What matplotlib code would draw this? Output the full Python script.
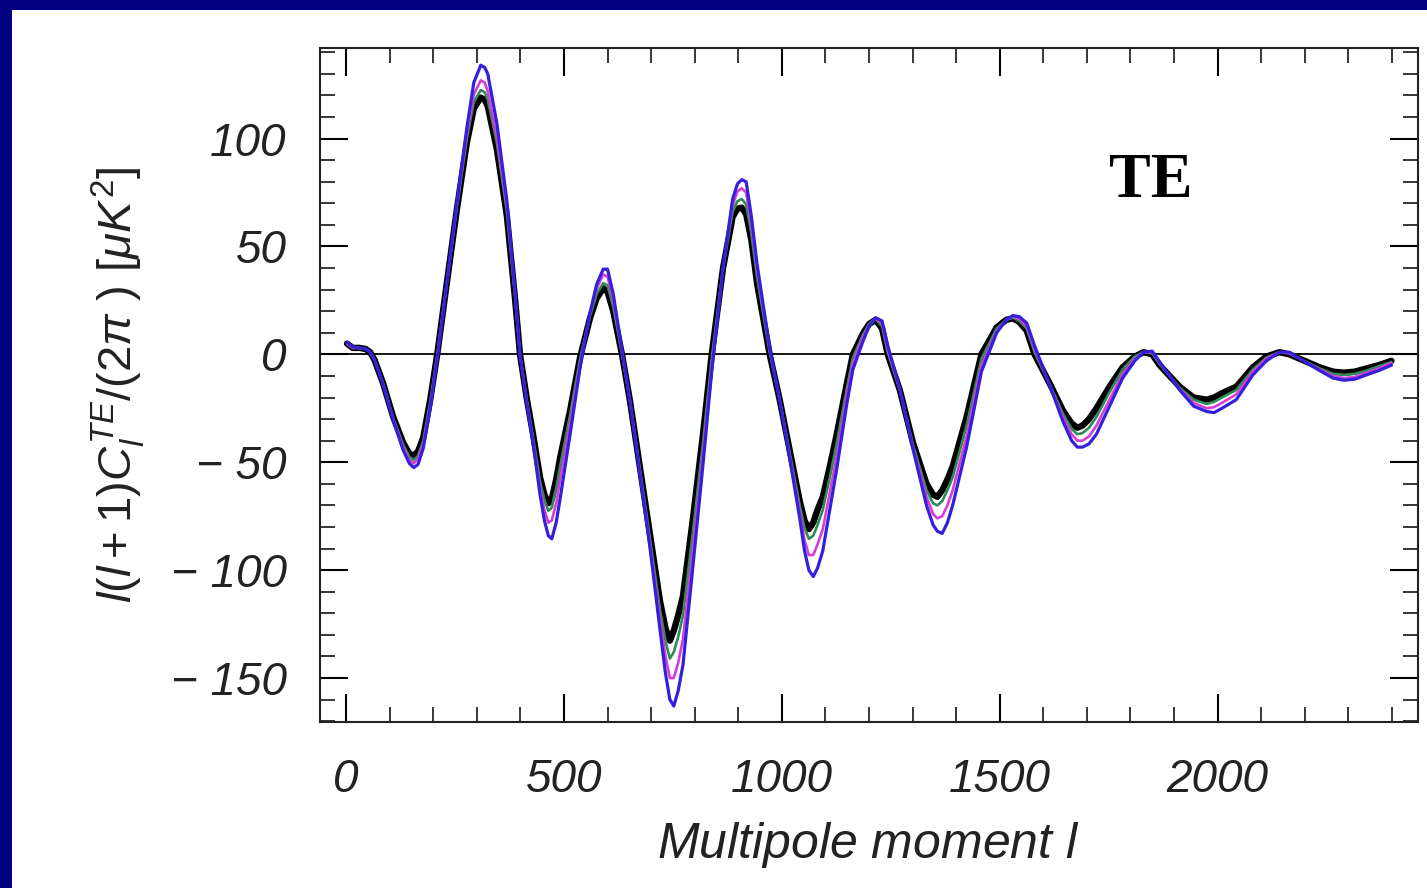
import matplotlib
matplotlib.use("Agg")
import matplotlib.pyplot as plt
from matplotlib.patches import Rectangle
from matplotlib.ticker import MultipleLocator


# multipole grid shared by all curves
ell = [2, 15, 30, 45, 55, 65, 85, 108, 131, 145, 155, 165, 177, 193, 209,
       231, 254, 277, 293, 309, 318, 325, 346, 369, 388, 399, 415, 429, 445,
       455, 464, 472, 482, 491, 514, 537, 560, 575, 590, 600, 613, 633, 651,
       674, 697, 720, 733, 743, 752, 762, 773, 796, 819, 839, 865, 887, 898,
       908, 918, 930, 943, 972, 995, 1018, 1041, 1052, 1062, 1072, 1082, 1094,
       1110, 1126, 1149, 1163, 1186, 1200, 1215, 1230, 1243, 1271, 1301, 1332,
       1347, 1357, 1368, 1380, 1392, 1424, 1458, 1493, 1515, 1530, 1545, 1562,
       1580, 1615, 1645, 1665, 1678, 1690, 1705, 1722, 1752, 1782, 1810, 1830,
       1850, 1867, 1890, 1913, 1945, 1975, 1992, 2010, 2043, 2081, 2112, 2142,
       2165, 2188, 2234, 2265, 2290, 2315, 2342, 2370, 2399]

te_black = [5, 3, 3, 2.5, 1, -2.5, -13.5, -29, -41, -46, -47, -45, -38.5, -21, 0,
            33, 67, 98, 114, 119, 118, 115, 95, 64, 25, 0, -21, -37, -57,
            -65, -69, -67, -58, -48, -26, -1.3, 17, 26, 30.6, 29, 20, 0, -21,
            -52, -83, -114, -127, -132.7, -128, -121, -112, -76, -37, 0, 40, 63.7, 67.5,
            68, 65, 53, 33, 0, -21, -44.5, -68, -77, -81, -78, -72, -66,
            -52, -37, -13.7, 0, 9.6, 14, 16, 12, 0, -16.7, -41, -60,
            -65, -66, -63, -58, -52, -29, 0, 12.5, 16, 16.7, 15, 11,
            0, -13.6, -26, -32, -34, -33, -30, -25, -15, -6, -1, 1,
            0, -5, -10, -15, -20, -21, -20, -18, -15, -6, -1, 1,
            0, -2, -6, -8, -8.5, -8, -6.5, -5, -3]

te_green = [5, 3, 3, 2.5, 1, -2.5, -13.5, -29.5, -42, -47.5, -49, -47, -40, -22, -0.5,
            33, 68, 100, 117, 122.5, 121.5, 118, 98, 66, 26, 0, -22, -38.5, -59,
            -67.5, -72.5, -71, -62, -52, -28, -2, 18, 28, 33, 32, 22, 0.5, -21,
            -53, -85, -118, -133, -141, -138, -131, -121, -82, -41, -2, 40, 66, 71,
            72, 69.5, 56, 36, 1, -21, -45.5, -70, -80.5, -85.5, -84, -79, -72,
            -57, -41, -16, -1.5, 9, 14, 16.5, 13, 1, -16.7, -42, -63,
            -69, -70, -68, -63, -57, -33, -2, 12, 16, 17, 15.5, 12,
            1, -14, -27.5, -34.5, -37, -36.5, -34, -29, -17.5, -7, -1, 1,
            0.5, -4.5, -10, -15.5, -21, -23, -22, -20, -16.5, -7, -1.5, 1,
            0.5, -2, -6.5, -9, -9.5, -9, -7.5, -5.5, -3.5]

te_magenta = [5, 3, 3, 2.5, 1, -2.5, -14, -30, -43, -49, -50.5, -48.5, -41.5, -23.5, -1,
              33, 69, 102, 120.5, 127, 126, 122, 101, 68, 27, 0, -22.5, -40, -62,
              -72, -78, -77, -69, -58, -32, -4, 19, 30.5, 37, 36, 25, 1, -21,
              -54, -87, -122, -140, -150, -150, -143, -132, -90, -46, -5, 40, 69, 75.5,
              77, 75, 60, 39, 2, -21, -47, -73, -86, -93, -93, -88, -81,
              -64, -47, -19, -4, 8, 13.5, 17, 14, 2, -16.5, -43, -66,
              -74, -76, -75, -70, -63, -38, -5, 11, 16, 17.5, 16.5, 13,
              2.5, -14.5, -29, -37, -40, -40, -38, -33, -21, -9, -2, 1,
              1, -4, -10, -16, -22.5, -25, -24.5, -22.5, -18.5, -8, -2, 1,
              0.5, -2, -7, -10, -11, -10.5, -8.5, -6.5, -4]

te_blue = [5.5, 3.5, 3, 2.5, 1, -2.5, -14, -30.5, -44.5, -50.5, -52.5, -51, -43.5, -25, -2,
           33, 70, 105, 126, 134, 133, 130, 107, 71, 28, 0, -23, -41, -65,
           -77, -84, -85.5, -78, -67, -37, -6, 19.5, 32.5, 39.5, 39.5, 28, 2, -21,
           -55, -89, -127, -148, -160, -163, -156, -144, -98, -51, -8, 40, 72, 79,
           81, 80, 64, 42, 3, -21, -48, -76, -91, -100, -103, -99, -91,
           -72, -53, -23, -7, 6, 13, 17, 15.5, 4, -16, -44, -70,
           -79, -82, -83, -78, -70, -43, -8, 10, 16, 18, 17.5, 14.5,
           4, -14.5, -31, -40, -43, -43, -41.5, -37, -24, -11, -3, 1,
           1.5, -3.5, -10, -16.5, -24, -26.5, -27, -25, -21, -9.5, -3, 1,
           1, -2, -7.5, -11, -12, -11.5, -9.5, -7.5, -5]

curves = [
    (te_black, "black", 4.6),
    (te_green, "#2e8b57", 1.9),
    (te_magenta, "#d63cd6", 1.9),
    (te_blue, "#3320dc", 2.3),
]

x_ticks = [0, 500, 1000, 1500, 2000]
x_tick_labels = ["0", "500", "1000", "1500", "2000"]
y_ticks = [-150, -100, -50, 0, 50, 100]
y_tick_labels = ["\u2212 150", "\u2212 100", "\u2212 50", "0", "50", "100"]

plt.rcParams["mathtext.fontset"] = "custom"
plt.rcParams["mathtext.it"] = "Liberation Sans:italic"
plt.rcParams["mathtext.rm"] = "Liberation Sans"
plt.rcParams["mathtext.sf"] = "Liberation Sans"

fig = plt.figure(figsize=(14.27, 8.88), dpi=100, facecolor="#000080")
panel = Rectangle((12 / 1427, 0), 1, 878 / 888, transform=fig.transFigure,
                  facecolor="white", edgecolor="none", zorder=-10)
fig.add_artist(panel)

ax = fig.add_axes([320 / 1427, 1 - 722 / 888, 1098 / 1427, 674 / 888])
ax.set_facecolor("white")
ax.set_zorder(1)

ax.axhline(0, color="black", lw=1.3, zorder=1)
for values, color, lw in curves:
    ax.plot(ell, values, color=color, lw=lw, solid_capstyle="round",
            solid_joinstyle="round", zorder=2)

ax.set_xlim(-60, 2460)
ax.set_ylim(-170.4, 142)

ax.set_xticks(x_ticks)
ax.set_xticklabels(x_tick_labels)
ax.set_yticks(y_ticks)
ax.set_yticklabels(y_tick_labels)
ax.xaxis.set_minor_locator(MultipleLocator(100))
ax.yaxis.set_minor_locator(MultipleLocator(10))

ax.tick_params(which="both", direction="in", top=True, right=True, color="black")
ax.tick_params(which="major", length=20, width=1.5)
ax.tick_params(which="minor", length=11, width=1.1)
ax.tick_params(axis="x", which="major", pad=26)
ax.tick_params(axis="y", which="major", pad=24)
for lab in ax.get_xticklabels() + ax.get_yticklabels():
    lab.set_fontfamily("Liberation Sans")
    lab.set_fontstyle("italic")
    lab.set_fontsize(33)
    lab.set_color("#222222")

for spine in ax.spines.values():
    spine.set_linewidth(1.5)
    spine.set_color("#222222")

ax.set_xlabel("Multipole moment $l$", fontsize=36, family="Liberation Sans",
              style="italic", color="#222222", va="center")
ax.xaxis.set_label_coords(0.499, -0.1825)
ax.set_ylabel(r"$l(l+1)C_l^{TE}/(2\pi\ )\ [\mu K^2]$", fontsize=34,
              color="#222222", va="center")
ax.yaxis.set_label_coords(-0.184, 0.5)

ax.text(1846, 80, "TE", fontsize=45, fontweight="bold", family="Liberation Serif",
        ha="center", va="center", color="black")

fig.savefig("out.png", dpi=100, facecolor=fig.get_facecolor())
